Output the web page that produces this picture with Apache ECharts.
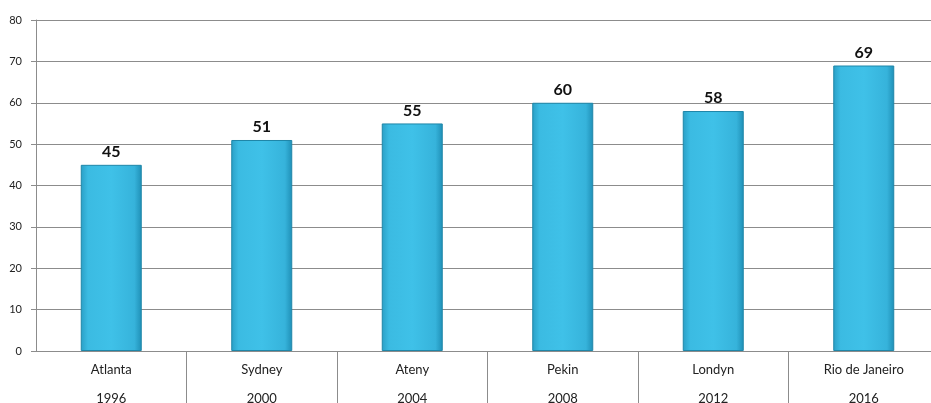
<!DOCTYPE html>
<html>
<head>
<meta charset="utf-8">
<script src="https://cdn.jsdelivr.net/npm/echarts@6/dist/echarts.min.js"></script>
<style>
html, body { margin: 0; padding: 0; background: #fff; }
#chart { width: 931px; height: 403px; }
</style>
</head>
<body>
<div id="chart"></div>
<script>
var cities = ['Atlanta', 'Sydney', 'Ateny', 'Pekin', 'Londyn', 'Rio de Janeiro'];
var years = ['1996', '2000', '2004', '2008', '2012', '2016'];
var values = [45, 51, 55, 60, 58, 69];

var chart = echarts.init(document.getElementById('chart'));
chart.setOption({
    animation: false,
    grid: {
        left: 36,
        top: 20,
        width: 903,
        height: 331,
        outerBoundsMode: 'none',
        containLabel: false
    },
    xAxis: {
        type: 'category',
        data: cities,
        axisLine: { lineStyle: { color: '#8c8c8c', width: 1 } },
        axisTick: {
            show: true,
            length: 56,
            interval: function (i) { return i > 0; },
            lineStyle: { color: '#8c8c8c' }
        },
        axisLabel: {
            interval: 0,
            margin: 4,
            formatter: function (v, i) {
                return '{a|' + v + '}\n{a|' + years[i] + '}';
            },
            rich: {
                a: { fontFamily: 'Lato, sans-serif', fontSize: 13, color: '#222', lineHeight: 29 }
            }
        }
    },
    yAxis: {
        type: 'value',
        min: 0,
        max: 80,
        interval: 10,
        axisLine: { show: true, lineStyle: { color: '#8c8c8c' } },
        axisTick: { show: true, length: 5, lineStyle: { color: '#8c8c8c' } },
        axisLabel: { fontFamily: 'Lato, sans-serif', fontSize: 11, color: '#222', margin: 14 },
        splitLine: { lineStyle: { color: '#8c8c8c', width: 1 } }
    },
    series: [{
        type: 'bar',
        data: values,
        barWidth: 61,
        itemStyle: {
            borderColor: '#1f86a8',
            borderWidth: 1,
            color: new echarts.graphic.LinearGradient(0, 0, 1, 0, [
                { offset: 0, color: '#2a9fc6' },
                { offset: 0.12, color: '#3bbbe2' },
                { offset: 0.5, color: '#3fc1e8' },
                { offset: 0.88, color: '#36b3db' },
                { offset: 1, color: '#1f8fb6' }
            ])
        },
        label: {
            show: true,
            position: 'top',
            distance: 5,
            fontFamily: 'Lato, sans-serif',
            fontWeight: 'bold',
            fontSize: 16,
            color: '#111'
        }
    }]
});
</script>
</body>
</html>
